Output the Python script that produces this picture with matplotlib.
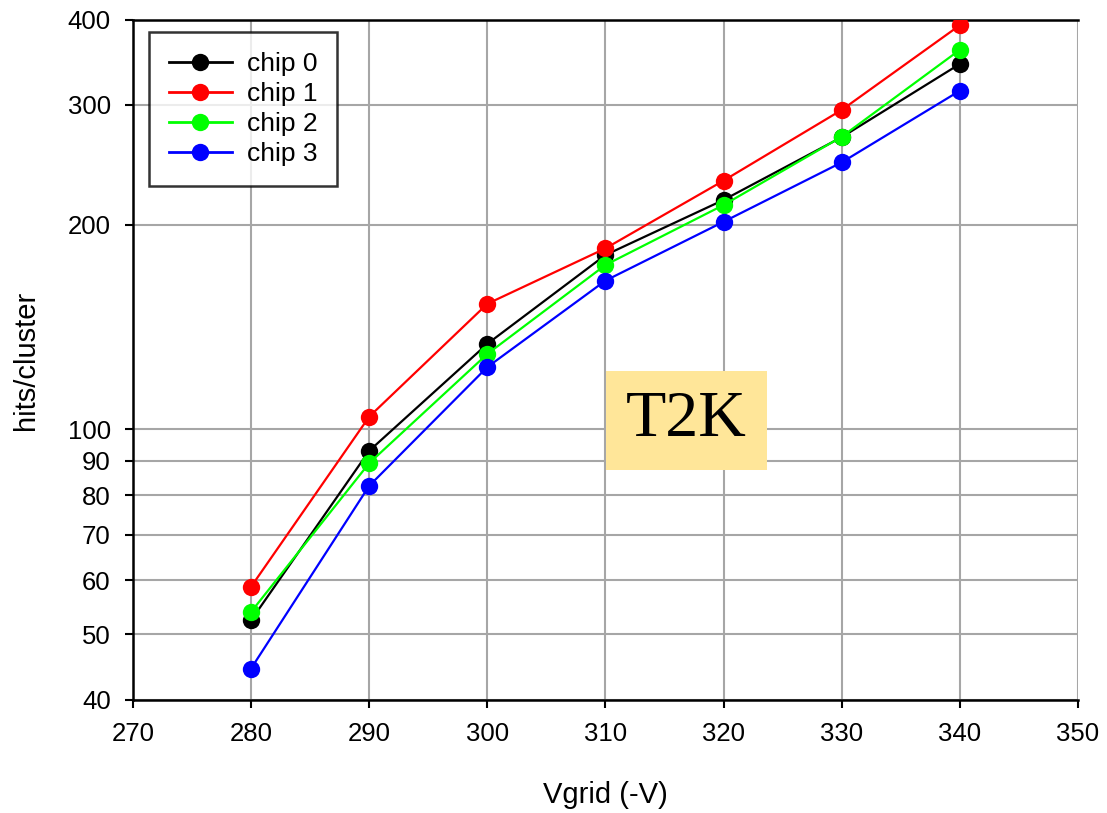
import matplotlib
matplotlib.use("Agg")
import matplotlib.pyplot as plt
from matplotlib.ticker import FixedLocator, FixedFormatter, NullLocator

plt.rcParams['font.family'] = ['Liberation Sans', 'DejaVu Sans']

# Grid voltage (-V) and measured hits per cluster for each chip
vgrid = [280, 290, 300, 310, 320, 330, 340]
chip0 = [52.4, 93.0, 133.6, 180.5, 217.5, 269.0, 344.7]
chip1 = [58.7, 104.4, 153.0, 184.6, 232.2, 295.0, 393.0]
chip2 = [53.9, 89.2, 129.1, 174.5, 213.8, 269.4, 361.6]
chip3 = [44.5, 82.6, 123.5, 165.5, 202.0, 247.0, 314.8]

series = [("chip 0", chip0, "#000000"),
          ("chip 1", chip1, "#ff0000"),
          ("chip 2", chip2, "#00ff00"),
          ("chip 3", chip3, "#0000ff")]

x_ticks = [270, 280, 290, 300, 310, 320, 330, 340, 350]
y_ticks = [40, 50, 60, 70, 80, 90, 100, 200, 300, 400]

fig = plt.figure(figsize=(11.07, 8.13), dpi=100)
ax = fig.add_axes([0.1201, 0.139, 0.8537, 0.8364])

for name, vals, col in series:
    ax.plot(vgrid, vals, color=col, lw=1.6, marker="o", ms=12.5,
            markeredgewidth=0, label=name, zorder=3)

ax.set_yscale("log")
ax.set_xlim(270, 350)
ax.set_ylim(40, 400)
ax.set_xticks(x_ticks)
ax.yaxis.set_major_locator(FixedLocator(y_ticks))
ax.yaxis.set_major_formatter(FixedFormatter([str(v) for v in y_ticks]))
ax.yaxis.set_minor_locator(NullLocator())

ax.grid(True, which="major", color="#a6a6a6", lw=1.5, zorder=0)
ax.set_axisbelow(True)

for side in ("left", "bottom", "top"):
    ax.spines[side].set_linewidth(1.8)
    ax.spines[side].set_color("black")
ax.spines["right"].set_visible(False)

ax.tick_params(axis="both", direction="out", length=6, width=1.5,
               labelsize=18.5, pad=10)

ax.set_xlabel("Vgrid (-V)", fontsize=21, labelpad=25)
ax.set_ylabel("hits/cluster", fontsize=21, labelpad=20)

leg = ax.legend(loc="upper left", bbox_to_anchor=(0.0169, 0.982),
                fontsize=19, frameon=True, fancybox=False,
                handlelength=2.4, handletextpad=0.55, labelspacing=0.23,
                borderpad=0.75, borderaxespad=0)
leg.get_frame().set_edgecolor("black")
leg.get_frame().set_linewidth(1.8)
for h in leg.get_lines():
    h.set_linewidth(2.0)

fig.text(0.6201, 0.4828, "T2K", fontsize=47.5, family="Liberation Serif",
         ha="center", va="center",
         bbox=dict(boxstyle="square,pad=0.3", facecolor="#ffe699",
                   edgecolor="none"))

fig.savefig("out.png", dpi=100)
